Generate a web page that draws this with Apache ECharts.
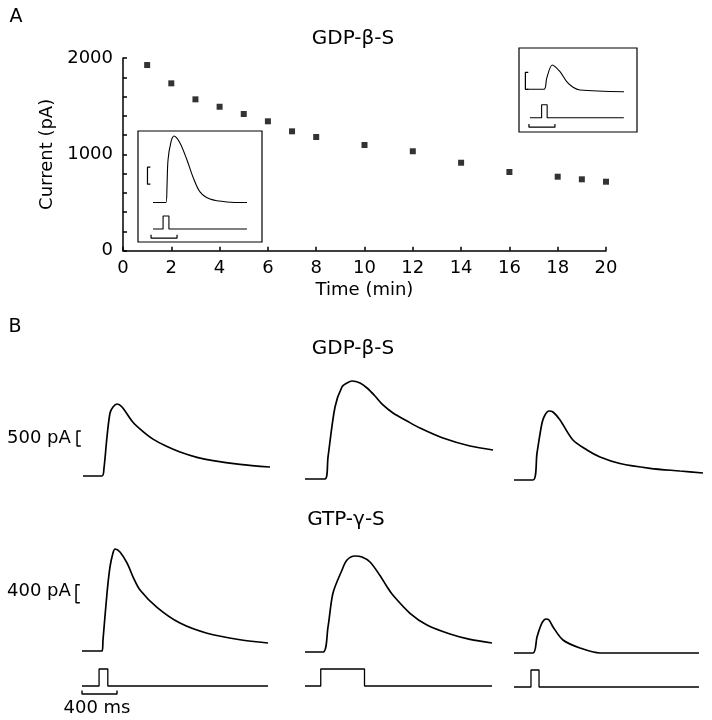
<!DOCTYPE html>
<html><head><meta charset="utf-8">
<script src="https://cdn.jsdelivr.net/npm/echarts@6/dist/echarts.min.js"></script>
<style>html,body{margin:0;padding:0;background:#fff}#c{width:712px;height:720px}</style>
</head><body><div id="c"></div>
<script>
// ---------- Panel A: peak current vs time ----------
const timeMin   = [1, 2, 3, 4, 5, 6, 7, 8, 10, 12, 14, 16, 18, 19, 20];
const currentPA = [1927, 1737, 1571, 1494, 1419, 1343, 1239, 1180, 1097, 1032, 913, 817, 768, 741, 716];
const xTickStepA = 2;
const yTickStepA = 200;
const yLabelStepA = 1000;

// Inset traces (ms, pA)
const inset1Time = [0, 200, 215, 231, 277, 323, 415, 523, 615, 723, 877, 1138, 1446];
const inset1Cur  = [0, 0, 456, 1250, 1780, 1955, 1750, 1250, 750, 310, 100, 15, 0];
const inset1StimTime = [0, 155, 155, 245, 245, 1445];
const inset2Time = [0, 262, 303, 389, 508, 611, 708, 815, 1492];
const inset2Cur  = [0, 0, 323, 716, 518, 223, 59, -20, -70];
const inset2StimTime = [45, 225, 225, 310, 310, 1490];
const pulseLevels = [0, 0, 1, 1, 0, 0];

// ---------- Panel B: current traces (ms, pA) ----------
const gdp1Time = [0, 217, 240, 274, 309, 343, 389, 446, 571, 686, 800, 960, 1109, 1303, 1486, 1794, 2137];
const gdp1Cur  = [0, 0, 267, 1300, 2100, 2300, 2400, 2300, 1790, 1480, 1230, 980, 800, 620, 510, 390, 300];
const gdp2Time = [0, 229, 263, 343, 423, 480, 537, 629, 709, 800, 891, 1006, 1166, 1314, 1577, 1886, 2149];
const gdp2Cur  = [0, 0, 733, 2400, 3067, 3200, 3267, 3200, 3033, 2767, 2467, 2200, 1933, 1700, 1367, 1100, 967];
const gdp3Time = [0, 217, 263, 320, 354, 400, 446, 526, 674, 834, 983, 1211, 1554, 1897, 2160];
const gdp3Cur  = [0, 0, 900, 1900, 2167, 2300, 2267, 2000, 1333, 1000, 767, 550, 390, 300, 233];

const gtp1Time = [0, 229, 240, 286, 320, 354, 377, 434, 514, 589, 663, 857, 1120, 1429, 1806, 2126];
const gtp1Cur  = [0, 0, 244, 1289, 1867, 2178, 2267, 2200, 1956, 1622, 1356, 970, 620, 395, 250, 178];
const gtp2Time = [0, 206, 263, 320, 423, 480, 571, 651, 743, 857, 937, 1006, 1200, 1394, 1657, 1886, 2137];
const gtp2Cur  = [0, 0, 556, 1311, 1822, 2044, 2133, 2111, 2000, 1700, 1450, 1260, 860, 600, 400, 280, 200];
const gtp3Time = [0, 217, 263, 320, 366, 400, 446, 560, 754, 983, 2114];
const gtp3Cur  = [0, 0, 356, 667, 756, 733, 578, 289, 111, 0, 0];

const stim1Time = [0, 195, 195, 295, 295, 2126];
const stim2Time = [0, 180, 180, 680, 680, 2137];
const stim3Time = [0, 194, 194, 286, 286, 2114];

const scaleRow1PA = 500;
const scaleRow2PA = 400;
const scaleInsetPA = 500;
const scaleTimeMs = 400;

// ---------- build ----------
const FONT = 'DejaVu Sans';
const INK = '#000';
const grids = [], xAxes = [], yAxes = [], series = [];

grids.push({left: 123, top: 58, width: 483, height: 192.7});
xAxes.push({type: 'value', gridIndex: 0, min: 0, max: 20, interval: xTickStepA, offset: 6,
  axisLine: {lineStyle: {color: INK, width: 1.5}},
  axisTick: {inside: true, length: 4, lineStyle: {color: INK, width: 1.5}},
  axisLabel: {fontFamily: FONT, fontSize: 18, color: INK, margin: 3},
  splitLine: {show: false},
  name: 'Time (min)', nameLocation: 'middle', nameGap: 25,
  nameTextStyle: {fontFamily: FONT, fontSize: 18, color: INK}});
yAxes.push({type: 'value', gridIndex: 0, min: 0, max: 2000, interval: yTickStepA, offset: 7,
  axisLine: {lineStyle: {color: INK, width: 1.5}},
  axisTick: {inside: true, length: 4, lineStyle: {color: INK, width: 1.5}},
  axisLabel: {fontFamily: FONT, fontSize: 18, color: INK, margin: 3,
    formatter: v => (v % yLabelStepA === 0 ? String(v) : '')},
  splitLine: {show: false},
  name: 'Current (pA)', nameLocation: 'middle', nameGap: 46, nameRotate: 90,
  nameTextStyle: {fontFamily: FONT, fontSize: 18, color: INK}});
series.push({type: 'scatter', xAxisIndex: 0, yAxisIndex: 0, symbol: 'rect', symbolSize: 6,
  itemStyle: {color: INK}, data: timeMin.map((t, i) => [t, currentPA[i]]), animation: false});

function panel(startX, baseY, pxPerX, pxPerY, xMin, xMax, yMin, yMax) {
  grids.push({left: startX + xMin * pxPerX, top: baseY - yMax * pxPerY,
    width: (xMax - xMin) * pxPerX, height: (yMax - yMin) * pxPerY});
  const g = grids.length - 1;
  xAxes.push({type: 'value', gridIndex: g, min: xMin, max: xMax, show: false});
  yAxes.push({type: 'value', gridIndex: g, min: yMin, max: yMax, show: false});
  return xAxes.length - 1;
}
function line(ax, xs, ys, w, smooth) {
  series.push({type: 'line', xAxisIndex: ax, yAxisIndex: ax, symbol: 'none', silent: true,
    animation: false, clip: false, lineStyle: {color: INK, width: w},
    smooth: smooth || false,
    data: xs.map((x, i) => [x, ys[i]])});
}
function bracketV(ax, xLine, xEnd, y0, h, w) {
  line(ax, [xEnd, xLine, xLine, xEnd], [y0, y0, y0 + h, y0 + h], w);
}
function timeBar(ax, x0, len, y, tickTop, w) {
  line(ax, [x0, x0, x0 + len, x0 + len], [tickTop, y, y, tickTop], w);
}

// Insets
const inMs = 0.065, inPA = 1 / 29.4, inStim = 13;
let a = panel(153, 202.5, inMs, inPA, -120, 1500, -400, 2100);
line(a, inset1Time, inset1Cur, 1.1, 0.3);
bracketV(a, -85, -40, 540, scaleInsetPA, 1.2);
a = panel(153, 229, inMs, inStim, -120, 1500, -0.8, 1.2);
line(a, inset1StimTime, pulseLevels, 1.1);
timeBar(a, -30, scaleTimeMs, -0.7, -0.45, 1.2);

a = panel(527, 89.3, inMs, inPA, -120, 1500, -400, 2100);
line(a, inset2Time, inset2Cur, 1.1, 0.3);
bracketV(a, -25, 20, 0, scaleInsetPA, 1.2);
a = panel(527, 117.7, inMs, inStim, -120, 1500, -0.8, 1.2);
line(a, inset2StimTime, pulseLevels, 1.1);
timeBar(a, 30, scaleTimeMs, -0.73, -0.48, 1.2);

// Panel B
const bMs = 0.0875, r1PA = 0.03, r2PA = 0.045, bStim = 17;
a = panel(83, 476, bMs, r1PA, -100, 2200, -400, 3600);
line(a, gdp1Time, gdp1Cur, 1.7, 0.3);
bracketV(a, -68, -25, 1000, scaleRow1PA, 1.5);
a = panel(305, 479, bMs, r1PA, -100, 2200, -400, 3600);
line(a, gdp2Time, gdp2Cur, 1.7, 0.3);
a = panel(514, 480, bMs, r1PA, -100, 2200, -400, 3600);
line(a, gdp3Time, gdp3Cur, 1.7, 0.3);

a = panel(82, 651, bMs, r2PA, -100, 2200, -400, 2400);
line(a, gtp1Time, gtp1Cur, 1.7, 0.3);
bracketV(a, -68, -25, 1070, scaleRow2PA, 1.5);
a = panel(305, 652, bMs, r2PA, -100, 2200, -400, 2400);
line(a, gtp2Time, gtp2Cur, 1.7, 0.3);
a = panel(514, 653, bMs, r2PA, -100, 2200, -400, 2400);
line(a, gtp3Time, gtp3Cur, 1.7, 0.3);

a = panel(82, 686, bMs, bStim, -100, 2200, -0.8, 1.2);
line(a, stim1Time, pulseLevels, 1.3);
timeBar(a, 0, scaleTimeMs, -0.47, -0.27, 1.4);
a = panel(305, 686, bMs, bStim, -100, 2200, -0.8, 1.2);
line(a, stim2Time, pulseLevels, 1.3);
a = panel(514, 687, bMs, bStim, -100, 2200, -0.8, 1.2);
line(a, stim3Time, pulseLevels, 1.3);

function txt(x, y, s, size, align) {
  return {type: 'text', x, y, style: {text: s, fontFamily: FONT, fontSize: size, fill: INK,
    textAlign: align || 'center', textVerticalAlign: 'middle'}};
}
const graphic = [
  {type: 'rect', shape: {x: 138, y: 131, width: 124, height: 111}, style: {fill: 'none', stroke: INK, lineWidth: 1.2}},
  {type: 'rect', shape: {x: 519, y: 48, width: 118, height: 84}, style: {fill: 'none', stroke: INK, lineWidth: 1.2}},
  txt(16, 17, 'A', 19),
  txt(15, 327, 'B', 19),
  txt(353, 39, 'GDP-β-S', 20),
  txt(353, 349, 'GDP-β-S', 20),
  txt(346, 520, 'GTP-γ-S', 20),
  txt(7, 438, scaleRow1PA + ' pA', 18, 'left'),
  txt(7, 591, scaleRow2PA + ' pA', 18, 'left'),
  txt(97, 708, scaleTimeMs + ' ms', 18)
];

const chart = echarts.init(document.getElementById('c'), null, {renderer: 'canvas'});
chart.setOption({backgroundColor: '#fff', animation: false, grid: grids, xAxis: xAxes, yAxis: yAxes, series, graphic});
</script></body></html>
